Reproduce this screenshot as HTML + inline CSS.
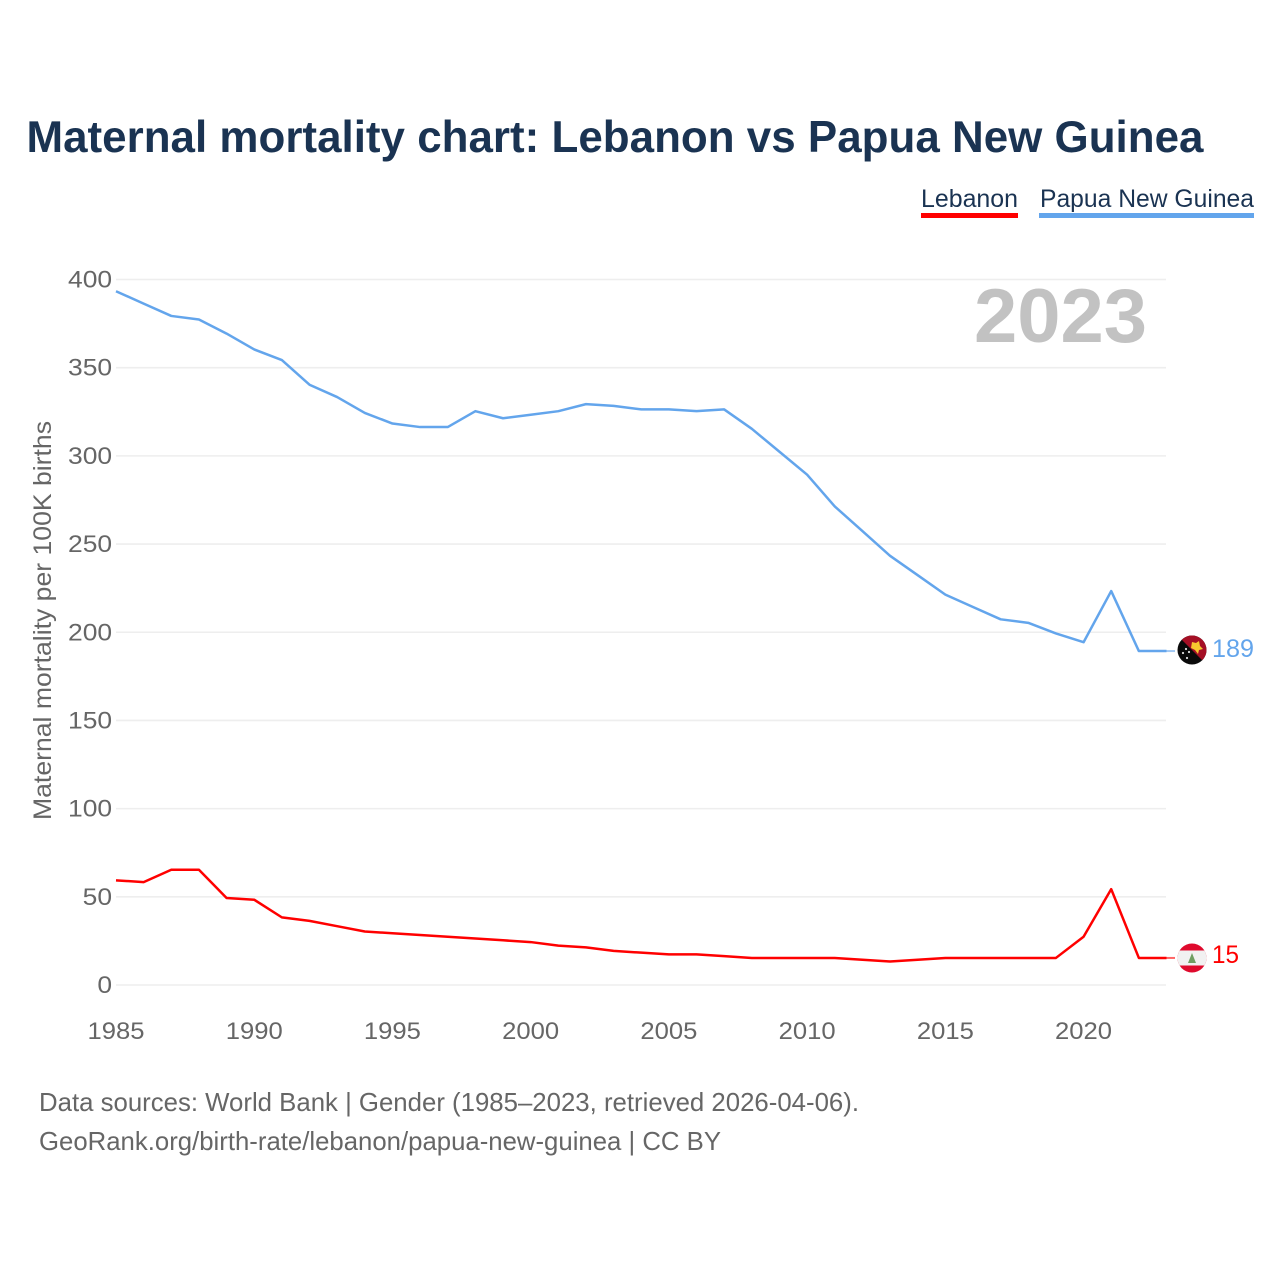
<!DOCTYPE html>
<html lang="en">
<head>
<meta charset="utf-8">
<title>Maternal mortality chart: Lebanon vs Papua New Guinea</title>
<style>
html,body{margin:0;padding:0;background:#fff;}
svg{display:block;font-family:"Liberation Sans",sans-serif;}
</style>
</head>
<body>
<svg id="chart" width="1280" height="1280" viewBox="0 0 1280 1280" xmlns="http://www.w3.org/2000/svg">
  <defs>
    <clipPath id="png-clip"><circle cx="1192" cy="650" r="14.5"/></clipPath>
    <clipPath id="lb-clip"><circle cx="1192" cy="958" r="14.5"/></clipPath>
  </defs>
  <text x="26.5" y="152" font-size="44.5" font-weight="700" fill="#1a3352" textLength="1177" lengthAdjust="spacingAndGlyphs">Maternal mortality chart: Lebanon vs Papua New Guinea</text>

  <text x="921" y="207" font-size="25" fill="#1a3352" textLength="97" lengthAdjust="spacingAndGlyphs">Lebanon</text>
  <rect x="921" y="213" width="97" height="5" fill="#ff0000"/>
  <text x="1040" y="207" font-size="25" fill="#1a3352" textLength="214" lengthAdjust="spacingAndGlyphs">Papua New Guinea</text>
  <rect x="1039" y="213" width="215" height="5" fill="#63a5ec"/>

  <g id="grid"></g>
  <g id="y-ticks"></g>
  <g id="x-ticks"></g>

  <text transform="translate(51,820) rotate(-90)" x="0" y="0" font-size="25" fill="#666666" textLength="399" lengthAdjust="spacingAndGlyphs">Maternal mortality per 100K births</text>

  <text x="974" y="342" font-size="76" font-weight="700" fill="#c2c2c2" textLength="173" lengthAdjust="spacingAndGlyphs">2023</text>

  <g id="series"></g>

  <g clip-path="url(#png-clip)">
    <rect x="1177" y="635" width="30" height="30" fill="#0a0a0a"/>
    <polygon points="1177,635 1207,635 1207,665" fill="#a50f25"/>
    <polygon points="1192,642 1196,643 1199,641 1200,646 1203,649 1199,650 1198,654 1195,650 1191,648" fill="#f7c82f"/>
    <circle cx="1186" cy="649" r="1.1" fill="#ddd"/>
    <circle cx="1183" cy="653" r="1.1" fill="#ddd"/>
    <circle cx="1189" cy="652" r="1.1" fill="#ddd"/>
    <circle cx="1187" cy="658" r="1.1" fill="#ddd"/>
  </g>
  <g clip-path="url(#lb-clip)">
    <rect x="1177" y="943" width="30" height="30" fill="#df0a2d"/>
    <rect x="1177" y="950.5" width="30" height="15" fill="#f1f1f1"/>
    <polygon points="1192,953 1196,963 1188,963" fill="#6f9e62"/>
  </g>

  <text id="end-label-png" x="1212" y="657" font-size="25" fill="#63a5ec" textLength="42" lengthAdjust="spacingAndGlyphs"></text>
  <text id="end-label-lb" x="1212" y="963" font-size="25" fill="#ff0000" textLength="27" lengthAdjust="spacingAndGlyphs"></text>

  <text x="39" y="1111" font-size="26" fill="#666666" textLength="820" lengthAdjust="spacingAndGlyphs">Data sources: World Bank | Gender (1985–2023, retrieved 2026-04-06).</text>
  <text x="39" y="1150" font-size="26" fill="#666666" textLength="682" lengthAdjust="spacingAndGlyphs">GeoRank.org/birth-rate/lebanon/papua-new-guinea | CC BY</text>
</svg>
<script>
const years = [1985,1986,1987,1988,1989,1990,1991,1992,1993,1994,1995,1996,1997,1998,1999,2000,2001,2002,2003,2004,2005,2006,2007,2008,2009,2010,2011,2012,2013,2014,2015,2016,2017,2018,2019,2020,2021,2022,2023];
const lebanonValues = [59,58,65,65,49,48,38,36,33,30,29,28,27,26,25,24,22,21,19,18,17,17,16,15,15,15,15,14,13,14,15,15,15,15,15,27,54,15,15];
const papuaValues = [393,386,379,377,369,360,354,340,333,324,318,316,316,325,321,323,325,329,328,326,326,325,326,315,302,289,271,257,243,232,221,214,207,205,199,194,223,189,189];
const yTickValues = [0,50,100,150,200,250,300,350,400];
const xTickValues = [1985,1990,1995,2000,2005,2010,2015,2020];

const NS = 'http://www.w3.org/2000/svg';
const xScale = function (year) { return 116 + (year - 1985) * (1166.5 - 116) / 38; };
const yScale = function (value) { return 985 - value * (985 - 279.5) / 400; };

function make(tag, attrs, text) {
  const el = document.createElementNS(NS, tag);
  Object.keys(attrs).forEach(function (k) { el.setAttribute(k, attrs[k]); });
  if (text !== undefined) el.textContent = text;
  return el;
}

const gridGroup = document.getElementById('grid');
const yGroup = document.getElementById('y-ticks');
yTickValues.forEach(function (v) {
  const line = make('line', { x1: 116, x2: 1166, y1: yScale(v), y2: yScale(v), stroke: '#eeeeee', 'stroke-width': 1.6 });
  
  
  gridGroup.appendChild(line);
  const s = String(v);
  const label = make('text', { x: 68 + (3 - s.length) * 14.7, y: yScale(v) + 8, 'font-size': 24.5, fill: '#666666', textLength: s.length * 14.7, lengthAdjust: 'spacingAndGlyphs' }, s);
  
  
  yGroup.appendChild(label);
});

const xGroup = document.getElementById('x-ticks');
xTickValues.forEach(function (y) {
  const label = make('text', { x: xScale(y) - 28.5, y: 1039, 'font-size': 24.5, fill: '#666666', textLength: 57, lengthAdjust: 'spacingAndGlyphs' }, String(y));
  
  
  xGroup.appendChild(label);
});

const seriesGroup = document.getElementById('series');
function drawSeries(values, color, name) {
  const pts = values.map(function (v, i) { return xScale(years[i]) + ',' + (yScale(v) - 0.6); }).join(' ');
  const line = make('polyline', { points: pts, fill: 'none', stroke: color, 'stroke-width': 2.5, 'stroke-linejoin': 'round' });
  
  
  seriesGroup.appendChild(line);
  const last = values[values.length - 1];
  const lastY = yScale(last) - 0.6;
  const tail = make('line', { x1: xScale(years[years.length - 1]), x2: 1175, y1: lastY, y2: lastY, stroke: color, 'stroke-width': 2, opacity: 0.6 });
  
  
  seriesGroup.appendChild(tail);
}
drawSeries(papuaValues, '#63a5ec', 'line-papua-new-guinea');
drawSeries(lebanonValues, '#ff0000', 'line-lebanon');

document.getElementById('end-label-png').textContent = papuaValues[papuaValues.length - 1];
document.getElementById('end-label-lb').textContent = lebanonValues[lebanonValues.length - 1];
</script>
</body>
</html>
